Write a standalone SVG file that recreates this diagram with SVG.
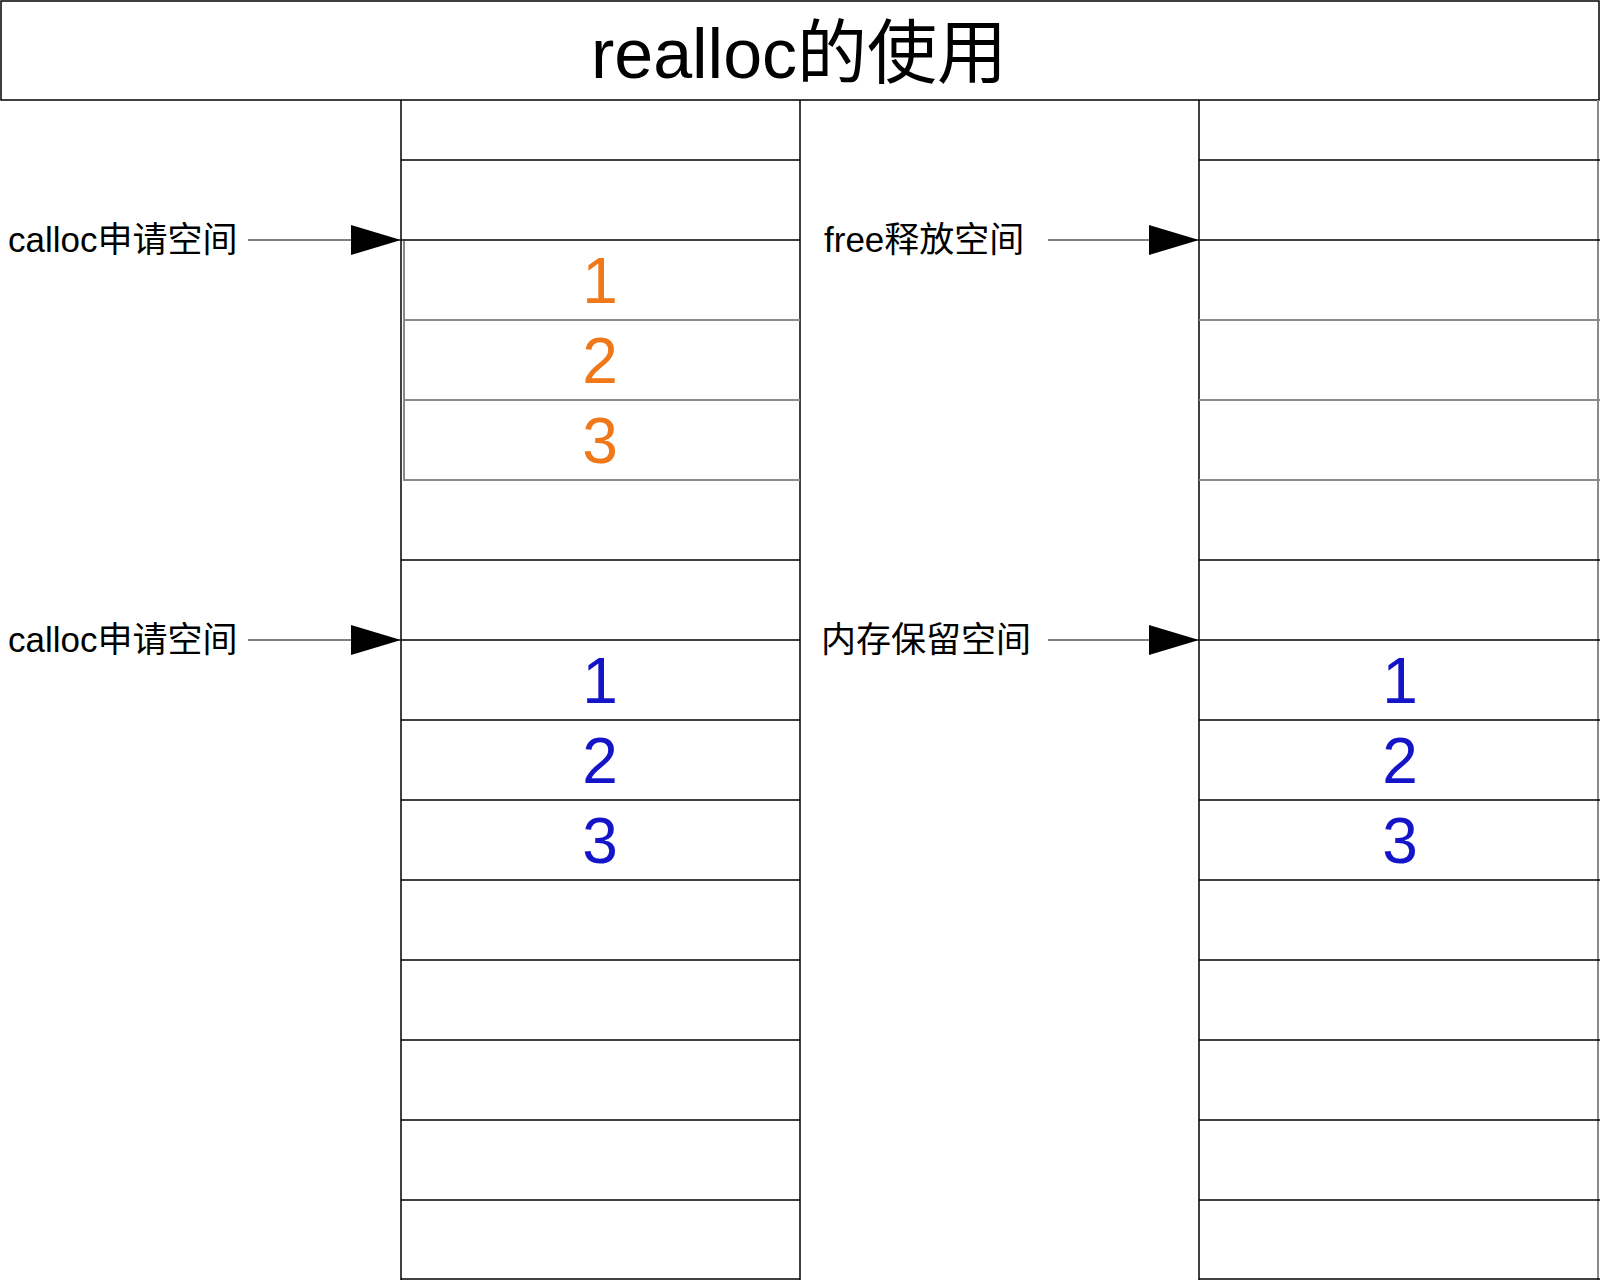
<svg xmlns="http://www.w3.org/2000/svg" width="1600" height="1280" viewBox="0 0 1600 1280">
<style>
.t{font-family:"Liberation Sans","Noto Sans CJK SC",Arial,sans-serif;fill:#000}
.lbl{font-size:35px}
.num{font-family:"Liberation Sans",Arial,sans-serif;font-size:64px;text-anchor:middle}
.or{fill:#f07818}
.bl{fill:#1414c8}
.k{stroke:#000;stroke-width:1.5;fill:none}
.g{stroke:#8a8a8a;stroke-width:2;fill:none}
.c{stroke:#000;stroke-width:1.2;fill:none}
</style>
<defs>
<marker id="ah" markerUnits="userSpaceOnUse" markerWidth="52" markerHeight="32" refX="52" refY="16" orient="auto">
<path d="M2,1 L52,16 L2,31 Z" fill="#000"/>
</marker>
</defs>
<rect width="1600" height="1280" fill="#fff"/>
<g id="title">
<rect x="1" y="1" width="1598" height="99" class="k"/>
<text x="799" y="78" class="t" font-size="70" text-anchor="middle">realloc的使用</text>
</g>
<g id="middle">
<line x1="800" y1="100" x2="800" y2="1280" class="k"/>
<line x1="1199" y1="100" x2="1199" y2="1280" class="k"/>
</g>
<g id="memory1">
<line x1="401" y1="100" x2="401" y2="1280" class="k"/>
<line x1="401" y1="160" x2="800" y2="160" class="k"/>
<line x1="401" y1="240" x2="800" y2="240" class="k"/>
<line x1="403" y1="320" x2="800" y2="320" class="g"/>
<line x1="403" y1="400" x2="800" y2="400" class="g"/>
<line x1="403" y1="480" x2="800" y2="480" class="g"/>
<line x1="404" y1="241" x2="404" y2="480" class="g"/>
<line x1="401" y1="560" x2="800" y2="560" class="k"/>
<line x1="401" y1="640" x2="800" y2="640" class="k"/>
<line x1="401" y1="720" x2="800" y2="720" class="k"/>
<line x1="401" y1="800" x2="800" y2="800" class="k"/>
<line x1="401" y1="880" x2="800" y2="880" class="k"/>
<line x1="401" y1="960" x2="800" y2="960" class="k"/>
<line x1="401" y1="1040" x2="800" y2="1040" class="k"/>
<line x1="401" y1="1120" x2="800" y2="1120" class="k"/>
<line x1="401" y1="1200" x2="800" y2="1200" class="k"/>
<line x1="401" y1="1279" x2="800" y2="1279" class="k"/>
<text x="600" y="303" class="num or">1</text>
<text x="600" y="383" class="num or">2</text>
<text x="600" y="463" class="num or">3</text>
<text x="600" y="703" class="num bl">1</text>
<text x="600" y="783" class="num bl">2</text>
<text x="600" y="863" class="num bl">3</text>
</g>
<g id="memory2">
<line x1="1598" y1="100" x2="1598" y2="1280" class="g"/>
<line x1="1199" y1="160" x2="1600" y2="160" class="k"/>
<line x1="1199" y1="240" x2="1600" y2="240" class="k"/>
<line x1="1199" y1="320" x2="1600" y2="320" class="g"/>
<line x1="1199" y1="400" x2="1600" y2="400" class="g"/>
<line x1="1199" y1="480" x2="1600" y2="480" class="g"/>
<line x1="1199" y1="560" x2="1600" y2="560" class="k"/>
<line x1="1199" y1="640" x2="1600" y2="640" class="k"/>
<line x1="1199" y1="720" x2="1600" y2="720" class="k"/>
<line x1="1199" y1="800" x2="1600" y2="800" class="k"/>
<line x1="1199" y1="880" x2="1600" y2="880" class="k"/>
<line x1="1199" y1="960" x2="1600" y2="960" class="k"/>
<line x1="1199" y1="1040" x2="1600" y2="1040" class="k"/>
<line x1="1199" y1="1120" x2="1600" y2="1120" class="k"/>
<line x1="1199" y1="1200" x2="1600" y2="1200" class="k"/>
<line x1="1199" y1="1279" x2="1600" y2="1279" class="k"/>
<text x="1400" y="703" class="num bl">1</text>
<text x="1400" y="783" class="num bl">2</text>
<text x="1400" y="863" class="num bl">3</text>
</g>
<g id="label-calloc1"><text x="8" y="252" class="t lbl">calloc申请空间</text></g>
<g id="label-free"><text x="824" y="252" class="t lbl">free释放空间</text></g>
<g id="label-calloc2"><text x="8" y="652" class="t lbl">calloc申请空间</text></g>
<g id="label-reserve"><text x="821" y="652" class="t lbl">内存保留空间</text></g>
<g id="connectors">
<line x1="248" y1="240" x2="401" y2="240" class="c" marker-end="url(#ah)"/>
<line x1="1048" y1="240" x2="1199" y2="240" class="c" marker-end="url(#ah)"/>
<line x1="248" y1="640" x2="401" y2="640" class="c" marker-end="url(#ah)"/>
<line x1="1048" y1="640" x2="1199" y2="640" class="c" marker-end="url(#ah)"/>
</g>
</svg>
